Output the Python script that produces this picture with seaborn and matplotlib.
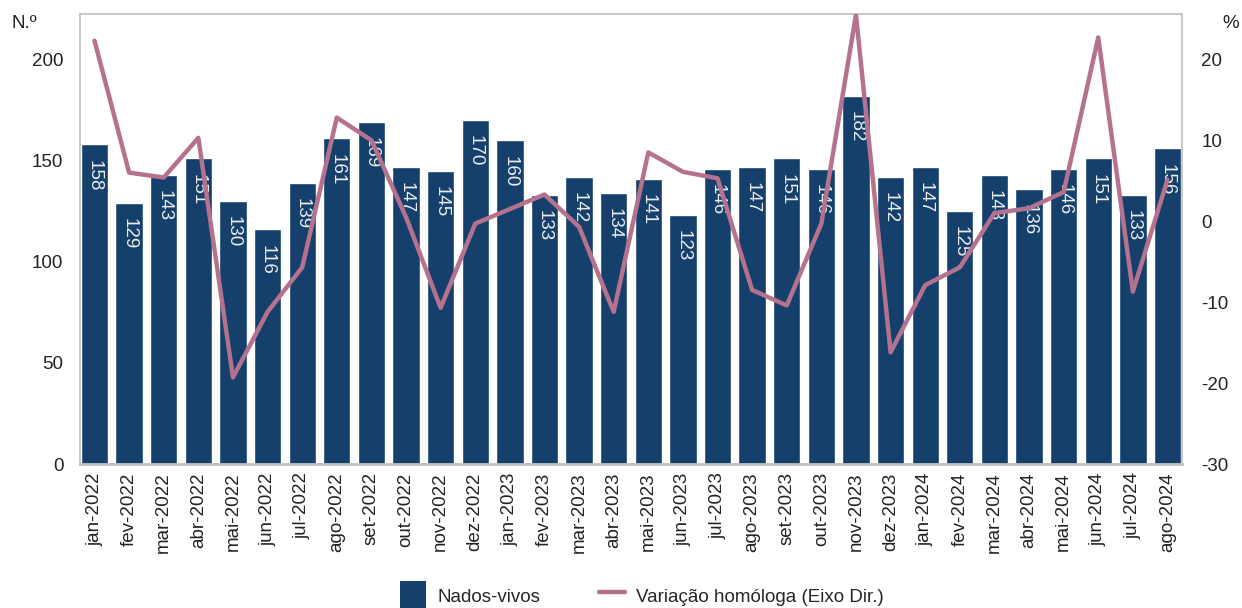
import numpy as np
import pandas as pd
import matplotlib
matplotlib.use('Agg')
import matplotlib.pyplot as plt
import seaborn as sns
from matplotlib.patches import Patch
from matplotlib.lines import Line2D

meses = ['jan-2022', 'fev-2022', 'mar-2022', 'abr-2022', 'mai-2022', 'jun-2022',
         'jul-2022', 'ago-2022', 'set-2022', 'out-2022', 'nov-2022', 'dez-2022',
         'jan-2023', 'fev-2023', 'mar-2023', 'abr-2023', 'mai-2023', 'jun-2023',
         'jul-2023', 'ago-2023', 'set-2023', 'out-2023', 'nov-2023', 'dez-2023',
         'jan-2024', 'fev-2024', 'mar-2024', 'abr-2024', 'mai-2024', 'jun-2024',
         'jul-2024', 'ago-2024']
nados_vivos = [158, 129, 143, 151, 130, 116, 139, 161, 169, 147, 145, 170,
               160, 133, 142, 134, 141, 123, 146, 147, 151, 146, 182, 142,
               147, 125, 143, 136, 146, 151, 133, 156]
variacao = [22.3, 6.0, 5.4, 10.3, -19.3, -11.2, -5.7, 12.8, 10.0, 0.5, -10.7, -0.3,
            1.5, 3.3, -0.7, -11.2, 8.5, 6.1, 5.3, -8.5, -10.4, -0.3, 25.5, -16.2,
            -7.9, -5.7, 1.0, 1.6, 3.6, 22.7, -8.7, 5.1]

cor_barra = '#15406b'
cor_linha = '#b5728f'
cor_moldura = '#bfbfbf'

sns.set_style('white')
plt.rcParams['font.family'] = ['Liberation Sans', 'DejaVu Sans']
plt.rcParams['axes.unicode_minus'] = False

df = pd.DataFrame({'mes': meses, 'nados': nados_vivos, 'var': variacao})

fig = plt.figure(figsize=(12.42, 6.08), dpi=100)
ax = fig.add_axes([0.0644, 0.2368, 0.8873, 0.7402])

sns.barplot(data=df, x='mes', y='nados', color=cor_barra, width=0.79,
            saturation=1, ax=ax)
ax.set_xlim(-0.42, len(meses) - 0.58)
ax.set_ylim(0, 222.4)
ax.set_yticks([0, 50, 100, 150, 200])
ax.set_xlabel('')
ax.set_ylabel('')
ax.tick_params(axis='y', labelsize=13.5, length=0, pad=12, labelcolor='#222222')
ax.tick_params(axis='x', labelsize=13.5, length=0, pad=6, labelrotation=90,
               labelcolor='#222222')

# rotulos dentro das barras
for i, v in enumerate(nados_vivos):
    ax.annotate(str(v), (i, v), xytext=(0, -11), textcoords='offset points',
                rotation=-90, ha='center', va='top', fontsize=13.5,
                color='#eeeeee')

for s in ['left', 'top', 'right']:
    ax.spines[s].set_color(cor_moldura)
    ax.spines[s].set_linewidth(1.2)
ax.spines['bottom'].set_color(cor_moldura)
ax.spines['bottom'].set_linewidth(2)

ax2 = ax.twinx()
sns.lineplot(x=np.arange(len(meses)), y=variacao, color=cor_linha, linewidth=3.2,
             ax=ax2)
ax2.set_ylim(-30, 25.6)
ax2.set_yticks([-30, -20, -10, 0, 10, 20])
ax2.tick_params(axis='y', labelsize=13.5, length=0, pad=14, labelcolor='#222222')
for s in ax2.spines.values():
    s.set_visible(False)

fig.text(0.009, 0.962, 'N.º', fontsize=13.5, color='#222222', va='center')
fig.text(0.984, 0.962, '%', fontsize=13.5, color='#222222', va='center')

handles = [Patch(facecolor=cor_barra, edgecolor='none'),
           Line2D([0], [0], color=cor_linha, linewidth=3.2)]
fig.legend(handles, ['Nados-vivos', 'Variação homóloga (Eixo Dir.)'],
           loc='center', bbox_to_anchor=(0.517, 0.02), ncol=2, frameon=False,
           fontsize=13.5, handlelength=1.4, handleheight=2.0, handletextpad=0.6,
           columnspacing=3.1)

fig.savefig('out.png', dpi=100)
